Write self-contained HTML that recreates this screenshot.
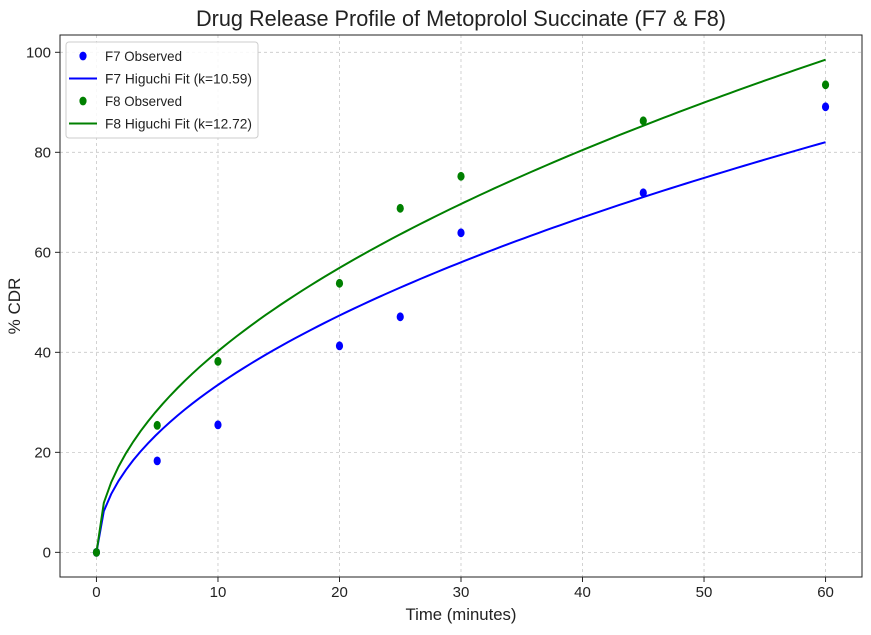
<!DOCTYPE html>
<html><head><meta charset="utf-8"><style>
body{margin:0;background:#fff;}
svg{display:block;font-family:"Liberation Sans Narrow","Liberation Sans",sans-serif;}
</style></head><body>
<svg id="chart" width="871" height="635"></svg>
<script>
const times=[0,5,10,20,25,30,45,60];
const f7Values=[0,18.3,25.5,41.3,47.1,63.9,71.9,89.1];
const f8Values=[0,25.4,38.2,53.8,68.8,75.2,86.3,93.5];
const kValues=[10.59,12.72];
const xTicks=[0,10,20,30,40,50,60];
const yTicks=[0,20,40,60,80,100];
const seriesNames=["F7","F8"];
const colors=["#0000ff","#008000"];

const NS="http://www.w3.org/2000/svg";
const svg=document.getElementById('chart');
const L=60,R=862,T=35,B=577;
const xmin=-3,xmax=63,ymin=-4.93,ymax=103.46;
const X=v=>L+(v-xmin)/(xmax-xmin)*(R-L);
const Y=v=>B-(v-ymin)/(ymax-ymin)*(B-T);
function mk(tag,attrs,parent){const e=document.createElementNS(NS,tag);for(const k in attrs)e.setAttribute(k,attrs[k]);(parent||svg).appendChild(e);return e;}

const grid=mk('g',{});


xTicks.forEach(t=>{
  mk('line',{x1:X(t),x2:X(t),y1:T,y2:B,stroke:'#c8c8c8','stroke-dasharray':'3,3','stroke-width':0.8},grid);
  const tl=mk('text',{x:X(t),y:B+20,'text-anchor':'middle','font-size':15,fill:'#222'});
  tl.textContent=t;
  
  
  mk('line',{x1:X(t),x2:X(t),y1:B,y2:B+5,stroke:'#222'});
});
yTicks.forEach(t=>{
  mk('line',{x1:L,x2:R,y1:Y(t),y2:Y(t),stroke:'#c8c8c8','stroke-dasharray':'3,3','stroke-width':0.8},grid);
  const tl=mk('text',{x:L-9,y:Y(t)+5,'text-anchor':'end','font-size':15,fill:'#222'});
  tl.textContent=t;
  
  
  mk('line',{x1:L-5,x2:L,y1:Y(t),y2:Y(t),stroke:'#222'});
});

kValues.forEach((k,i)=>{
  let d='';
  for(let j=0;j<100;j++){const t=j*60/99;d+=(j?'L':'M')+X(t).toFixed(2)+','+Y(k*Math.sqrt(t)).toFixed(2);}
  const p=mk('path',{d:d,fill:'none',stroke:colors[i],'stroke-width':2});
  
  
});
[f7Values,f8Values].forEach((vals,i)=>{
  vals.forEach((v,j)=>{
    const c=mk('ellipse',{cx:X(times[j]),cy:Y(v),rx:3.6,ry:4.4,fill:colors[i]});
    
    
  });
});

const frame=mk('rect',{x:L,y:T,width:R-L,height:B-T,fill:'none',stroke:'#222','stroke-width':1});



const title=mk('text',{x:(L+R)/2,y:26,'text-anchor':'middle','font-size':22,fill:'#222',textLength:530,lengthAdjust:'spacingAndGlyphs'});
title.textContent='Drug Release Profile of Metoprolol Succinate (F7 & F8)';


const xt=mk('text',{x:(L+R)/2,y:620,'text-anchor':'middle','font-size':17,fill:'#222',textLength:111,lengthAdjust:'spacingAndGlyphs'});
xt.textContent='Time (minutes)';


const yt=mk('text',{x:20,y:306,'text-anchor':'middle','font-size':17,fill:'#222',transform:'rotate(-90 20 306)'});
yt.textContent='% CDR';



const lg=mk('g',{});


mk('rect',{x:66,y:42,width:192,height:96,rx:3,fill:'#fff','fill-opacity':0.85,stroke:'#ccc'},lg);
const entries=[
  ['F7 Observed','dot',0],['F7 Higuchi Fit (k='+kValues[0].toFixed(2)+')','line',0],
  ['F8 Observed','dot',1],['F8 Higuchi Fit (k='+kValues[1].toFixed(2)+')','line',1]];
const lens=[77,147,77,147];
entries.forEach((e,i)=>{
  const y=56+i*22.5;
  const g=mk('g',{},lg);
  
  
  if(e[1]==='dot')mk('ellipse',{cx:83,cy:y,rx:3.6,ry:4.4,fill:colors[e[2]]},g);
  else mk('line',{x1:69,x2:97,y1:y,y2:y,stroke:colors[e[2]],'stroke-width':2},g);
  const t=mk('text',{x:105,y:y+5,'font-size':14,fill:'#222',textLength:lens[i],lengthAdjust:'spacingAndGlyphs'},g);
  t.textContent=e[0];
});
</script>
</body></html>
